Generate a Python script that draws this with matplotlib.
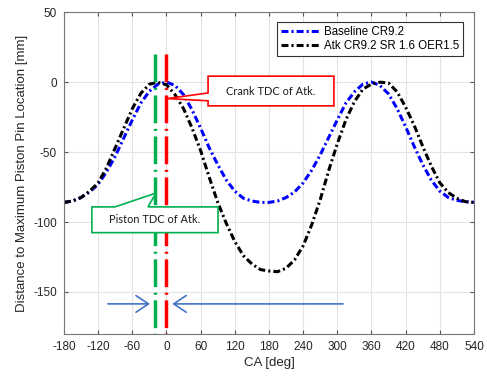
import matplotlib
matplotlib.use("Agg")
import matplotlib.pyplot as plt
from matplotlib.patches import Polygon, FancyArrowPatch
import numpy as np

## data (15 deg steps)
ca = np.arange(-180, 541, 15)
baseline = [-86, -85, -82.5, -78.5, -73, -64, -53, -40, -27, -15, -6.5, -1.5,
            0, -2.5, -9, -20, -33, -47, -59, -70, -78, -83, -85, -86,
            -86, -85, -82.5, -78.5, -72, -63, -52, -39.5, -27, -15, -7, -1.5,
            0, -2.5, -8.5, -19, -32, -46, -59, -70, -78, -82.5, -84.5, -85.5,
            -86]
atk = [-86, -85, -82.5, -78, -72, -61, -47, -33, -19, -8, -1.5, -0.2,
       -2, -9, -19, -33, -49, -68, -86, -101, -114, -124, -130, -134,
       -135, -135.5, -133, -127, -117, -102, -84, -63, -44, -27, -14, -5,
       -1.5, -0.1, -0.7, -7, -18, -31, -46, -60, -72, -79, -83, -85.5,
       -86]

piston_tdc = -20
crank_tdc = 0
tdc_top = 20

plt.rcParams['font.family'] = ['Liberation Sans', 'DejaVu Sans']
plt.rcParams['lines.scale_dashes'] = False
plt.rcParams['axes.unicode_minus'] = False

fig = plt.figure(figsize=(4.87, 3.77), dpi=100)
ax = fig.add_axes([0.1314, 0.1141, 0.8419, 0.8539])

ax.plot(ca, baseline, color='#0000FF', lw=2.2, dashes=(5, 2.2, 1.5, 2.2), label='Baseline CR9.2')
ax.plot(ca, atk, color='black', lw=2.2, dashes=(5, 2.2, 1.5, 2.2), label='Atk CR9.2 SR 1.6 OER1.5')

# TDC marker lines, drawn top-down so the dash pattern starts at the top
ax.plot([piston_tdc, piston_tdc], [tdc_top, -180], color='#00B050', lw=2.5, dashes=(20, 4, 1.5, 4))
ax.plot([crank_tdc, crank_tdc], [tdc_top, -180], color='#FF0000', lw=2.5, dashes=(20, 4, 1.5, 4))

# arrows pointing at the two TDC lines
for x0, x1 in [(-103, piston_tdc - 9), (310, crank_tdc + 10)]:
    ax.add_patch(FancyArrowPatch((x0, -158.5), (x1, -158.5), arrowstyle='->,head_length=0.45,head_width=0.3',
                                 mutation_scale=20, color='#4472C4', lw=1.2, shrinkA=0, shrinkB=0, zorder=4))

# callouts
crank_box = [(73, 4.2), (294, 4.2), (294, -17), (73, -17), (73, -13.4), (1, -11.8), (73, -7.8)]
ax.add_patch(Polygon(crank_box, closed=True, fc='white', ec='#FF0000', lw=1.2, zorder=5))
ax.text(183.5, -6.4, 'Crank TDC of Atk.', ha='center', va='center', fontsize=7.9,
        family=['Lato', 'DejaVu Sans'], color='#1a1a1a', zorder=6)

piston_box = [(-131, -89.2), (-90.4, -89.2), (-18.4, -79.3), (-32.5, -89.2), (90.5, -89.2),
              (90.5, -107.6), (-131, -107.6)]
ax.add_patch(Polygon(piston_box, closed=True, fc='white', ec='#00B050', lw=1.2, zorder=5))
ax.text(-20, -98.4, 'Piston TDC of Atk.', ha='center', va='center', fontsize=7.9,
        family=['Lato', 'DejaVu Sans'], color='#1a1a1a', zorder=6)

ax.set_xlim(-180, 540)
ax.set_ylim(-180, 50)
ax.set_xticks(np.arange(-180, 541, 60))
ax.set_yticks([-150, -100, -50, 0, 50])
ax.grid(True, color='#e3e3e3', lw=0.8)
ax.set_axisbelow(True)
ax.tick_params(direction='in', top=True, right=True, length=3, labelsize=8.5,
               colors='#555555', labelcolor='#262626', pad=5)
for s in ax.spines.values():
    s.set_color('#777777')
ax.set_xlabel('CA [deg]', fontsize=9.5, color='#262626', labelpad=3)
ax.set_ylabel('Distance to Maximum Piston Pin Location [mm]', fontsize=9.5, color='#262626', labelpad=4)

leg = ax.legend(loc='upper right', fontsize=8.3, fancybox=False, framealpha=1, edgecolor='#333333',
                borderpad=0.35, handlelength=3.4, handletextpad=0.3, labelspacing=0.2,
                borderaxespad=0, bbox_to_anchor=(0.973, 0.969))
leg.get_frame().set_linewidth(0.8)

fig.savefig('out.png', dpi=100)
